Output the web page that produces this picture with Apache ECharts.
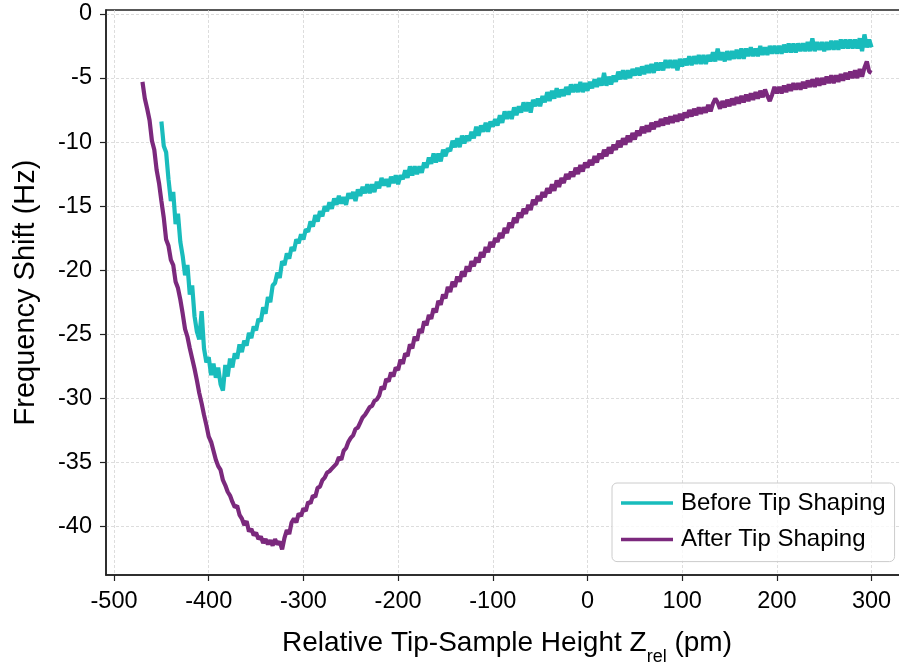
<!DOCTYPE html>
<html><head><meta charset="utf-8">
<script src="https://cdn.jsdelivr.net/npm/echarts@6/dist/echarts.min.js"></script>
<style>html,body{margin:0;padding:0;background:#fff}#c{width:899px;height:662px}</style>
</head><body><div id="c"></div>
<script>
// Relative tip-sample height (pm), 10 samples per row (25 pm)
const zRel = [
  -470,-467.5,-465,-462.5,-460,-457.5,-455,-452.5,-450,-447.5,
  -445,-442.5,-440,-437.5,-435,-432.5,-430,-427.5,-425,-422.5,
  -420,-417.5,-415,-412.5,-410,-407.5,-405,-402.5,-400,-397.5,
  -395,-392.5,-390,-387.5,-385,-382.5,-380,-377.5,-375,-372.5,
  -370,-367.5,-365,-362.5,-360,-357.5,-355,-352.5,-350,-347.5,
  -345,-342.5,-340,-337.5,-335,-332.5,-330,-327.5,-325,-322.5,
  -320,-317.5,-315,-312.5,-310,-307.5,-305,-302.5,-300,-297.5,
  -295,-292.5,-290,-287.5,-285,-282.5,-280,-277.5,-275,-272.5,
  -270,-267.5,-265,-262.5,-260,-257.5,-255,-252.5,-250,-247.5,
  -245,-242.5,-240,-237.5,-235,-232.5,-230,-227.5,-225,-222.5,
  -220,-217.5,-215,-212.5,-210,-207.5,-205,-202.5,-200,-197.5,
  -195,-192.5,-190,-187.5,-185,-182.5,-180,-177.5,-175,-172.5,
  -170,-167.5,-165,-162.5,-160,-157.5,-155,-152.5,-150,-147.5,
  -145,-142.5,-140,-137.5,-135,-132.5,-130,-127.5,-125,-122.5,
  -120,-117.5,-115,-112.5,-110,-107.5,-105,-102.5,-100,-97.5,
  -95,-92.5,-90,-87.5,-85,-82.5,-80,-77.5,-75,-72.5,
  -70,-67.5,-65,-62.5,-60,-57.5,-55,-52.5,-50,-47.5,
  -45,-42.5,-40,-37.5,-35,-32.5,-30,-27.5,-25,-22.5,
  -20,-17.5,-15,-12.5,-10,-7.5,-5,-2.5,0,2.5,
  5,7.5,10,12.5,15,17.5,20,22.5,25,27.5,
  30,32.5,35,37.5,40,42.5,45,47.5,50,52.5,
  55,57.5,60,62.5,65,67.5,70,72.5,75,77.5,
  80,82.5,85,87.5,90,92.5,95,97.5,100,102.5,
  105,107.5,110,112.5,115,117.5,120,122.5,125,127.5,
  130,132.5,135,137.5,140,142.5,145,147.5,150,152.5,
  155,157.5,160,162.5,165,167.5,170,172.5,175,177.5,
  180,182.5,185,187.5,190,192.5,195,197.5,200,202.5,
  205,207.5,210,212.5,215,217.5,220,222.5,225,227.5,
  230,232.5,235,237.5,240,242.5,245,247.5,250,252.5,
  255,257.5,260,262.5,265,267.5,270,272.5,275,277.5,
  280,282.5,285,287.5,290,292.5,295,297.5,300
];
// Frequency shift (Hz) before tip shaping
const beforeShift = [
  null,null,null,null,null,null,null,null,-8.4,-10.3,
  -10.8,-12.9,-14.6,-13.9,-16.4,-15.6,-17.8,-18.9,-20.4,-19.6,
  -21.9,-21.2,-23.6,-24.8,-25.4,-23.2,-26.1,-27.2,-26.8,-28.2,
  -27.3,-28.4,-27.6,-28.9,-29.4,-27.4,-28.3,-26.9,-27.6,-26.5,
  -26.9,-25.8,-26.4,-25.5,-25.9,-24.9,-25.3,-24.4,-24.7,-23.8,
  -24.0,-22.9,-23.4,-22.1,-22.5,-21.2,-21.0,-20.2,-20.6,-19.3,
  -19.6,-18.7,-19.1,-18.2,-18.5,-17.6,-17.9,-17.2,-17.6,-16.8,
  -17.0,-16.2,-16.6,-15.7,-16.2,-15.4,-15.8,-15.0,-15.4,-14.7,
  -15.2,-14.4,-14.9,-14.2,-14.8,-14.3,-14.9,-14.0,-14.4,-13.9,
  -14.6,-13.7,-14.2,-13.5,-14.0,-13.3,-14.0,-13.3,-13.9,-13.1,
  -13.6,-12.8,-13.4,-12.9,-13.5,-12.7,-13.2,-12.6,-13.3,-12.6,
  -12.9,-12.2,-12.8,-11.9,-12.6,-11.9,-12.5,-11.9,-12.4,-11.6,
  -12.0,-11.2,-11.7,-10.9,-11.6,-10.9,-11.5,-10.6,-11.1,-10.5,
  -10.7,-9.9,-10.4,-9.7,-10.4,-9.5,-10.1,-9.5,-9.9,-9.2,
  -9.7,-8.8,-9.5,-8.7,-9.2,-8.5,-9.2,-8.4,-8.8,-8.2,
  -8.7,-7.9,-8.5,-7.6,-8.2,-7.6,-8.2,-7.3,-7.9,-7.2,
  -7.7,-6.9,-7.6,-6.9,-7.7,-6.7,-7.2,-6.6,-7.2,-6.4,
  -6.9,-6.1,-6.8,-6.0,-6.6,-5.8,-6.5,-5.9,-6.4,-5.7,
  -6.3,-5.5,-6.1,-5.5,-6.1,-5.3,-6.1,-5.4,-6.0,-5.3,
  -5.8,-5.1,-5.7,-5.0,-5.6,-4.6,-5.6,-4.9,-5.5,-4.8,
  -5.3,-4.5,-5.1,-4.4,-5.1,-4.4,-5.0,-4.3,-4.8,-4.2,
  -4.8,-4.1,-4.7,-4.0,-4.6,-3.9,-4.6,-3.8,-4.4,-3.8,
  -4.4,-3.6,-4.2,-3.6,-4.2,-3.6,-4.4,-3.5,-4.1,-3.5,
  -4.0,-3.3,-4.0,-3.3,-3.9,-3.2,-3.9,-3.2,-3.9,-3.2,
  -3.7,-3.0,-3.7,-2.7,-3.6,-3.0,-3.7,-2.9,-3.6,-2.9,
  -3.5,-2.8,-3.5,-2.7,-3.5,-2.7,-3.3,-2.6,-3.3,-2.7,
  -3.3,-2.5,-3.2,-2.6,-3.2,-2.5,-3.1,-2.5,-3.1,-2.5,
  -3.1,-2.4,-3.0,-2.3,-3.0,-2.3,-3.0,-2.3,-2.9,-2.3,
  -2.9,-2.2,-2.9,-1.9,-2.9,-2.2,-2.8,-2.2,-2.9,-2.2,
  -2.8,-2.1,-2.8,-2.1,-2.8,-2.0,-2.7,-2.0,-2.7,-2.0,
  -2.7,-2.0,-2.7,-1.9,-2.9,-1.6,-2.6,-2.0,-2.6
];
// Frequency shift (Hz) after tip shaping
const afterShift = [
  -5.3,-6.6,-7.4,-8.3,-9.9,-10.6,-12.2,-13.2,-14.6,-15.9,
  -17.6,-18.1,-19.2,-19.6,-20.9,-21.4,-22.3,-23.4,-24.6,-25.2,
  -26.1,-26.9,-27.7,-28.6,-29.6,-30.4,-31.3,-32.1,-33.0,-33.4,
  -34.1,-34.8,-35.3,-35.6,-36.4,-36.8,-37.3,-37.6,-38.1,-38.5,
  -38.4,-39.1,-39.4,-39.9,-39.6,-40.4,-40.2,-40.7,-40.5,-41.0,
  -40.8,-41.3,-41.0,-41.4,-41.1,-41.5,-41.0,-41.4,-41.2,-41.8,
  -40.9,-40.3,-40.6,-39.7,-39.4,-39.7,-39.0,-39.2,-38.6,-38.8,
  -38.1,-38.2,-37.6,-37.7,-37.0,-36.9,-36.4,-36.2,-35.8,-35.7,
  -35.5,-35.3,-35.1,-34.6,-34.8,-34.1,-33.9,-33.4,-33.1,-32.9,
  -32.4,-32.3,-31.9,-31.5,-31.3,-31.0,-30.7,-30.6,-30.2,-30.1,
  -29.8,-29.1,-29.3,-28.5,-28.7,-28.0,-28.3,-27.6,-27.8,-27.0,
  -27.3,-26.5,-26.7,-25.8,-26.1,-25.2,-25.5,-24.6,-24.9,-24.0,
  -24.3,-23.5,-23.8,-23.0,-23.3,-22.4,-22.7,-21.9,-22.2,-21.3,
  -21.7,-20.9,-21.3,-20.5,-20.9,-20.1,-20.5,-19.7,-20.1,-19.3,
  -19.7,-19.0,-19.4,-18.6,-19.0,-18.2,-18.6,-17.8,-18.2,-17.5,
  -17.8,-17.1,-17.5,-16.7,-17.1,-16.3,-16.7,-15.9,-16.3,-15.5,
  -15.9,-15.2,-15.6,-14.9,-15.3,-14.5,-14.9,-14.2,-14.6,-13.9,
  -14.3,-13.6,-14.0,-13.3,-13.8,-13.0,-13.5,-12.8,-13.2,-12.5,
  -12.9,-12.3,-12.7,-12.0,-12.5,-11.8,-12.3,-11.6,-12.0,-11.4,
  -11.8,-11.1,-11.6,-10.9,-11.3,-10.6,-11.1,-10.4,-10.9,-10.2,
  -10.6,-9.9,-10.4,-9.7,-10.2,-9.5,-10.0,-9.3,-9.8,-9.1,
  -9.5,-8.8,-9.3,-8.7,-9.2,-8.5,-9.0,-8.4,-8.8,-8.2,
  -8.7,-8.1,-8.6,-8.0,-8.5,-7.9,-8.4,-7.8,-8.3,-7.7,
  -8.1,-7.5,-8.0,-7.4,-7.9,-7.3,-7.8,-7.3,-7.7,-7.1,
  -7.6,-7.0,-6.6,-6.9,-7.4,-6.8,-7.3,-6.7,-7.2,-6.6,
  -7.1,-6.5,-7.0,-6.4,-6.9,-6.3,-6.8,-6.2,-6.7,-6.1,
  -6.6,-6.0,-6.5,-5.9,-6.4,-6.8,-6.3,-5.7,-6.2,-5.7,
  -6.2,-5.6,-6.1,-5.5,-6.0,-5.4,-5.9,-5.4,-5.9,-5.3,
  -5.8,-5.2,-5.7,-5.1,-5.7,-5.0,-5.6,-5.0,-5.5,-4.9,
  -5.4,-4.8,-5.4,-4.8,-5.3,-4.7,-5.2,-4.6,-5.1,-4.5,
  -5.0,-4.4,-5.0,-4.3,-4.9,-4.2,-3.7,-4.5,-4.6
];
const xTicks = [-500,-400,-300,-200,-100,0,100,200,300];
const yTicks = [0,-5,-10,-15,-20,-25,-30,-35,-40];
const seriesNames = ['Before Tip Shaping','After Tip Shaping'];
const seriesColors = ['#19bcbc','#7b297d'];

function pairs(vals){
  const out = [];
  zRel.forEach((z,i)=>{ if (vals[i] !== null) out.push([z, vals[i]]); });
  return out;
}
const FONT = '"Liberation Sans", Arial, sans-serif';
const chart = echarts.init(document.getElementById('c'), null, {renderer:'canvas'});
chart.setOption({
  animation:false,
  backgroundColor:'#fff',
  grid:{left:106, top:10, right:-9, bottom:87, outerBoundsMode:'none', containLabel:false,
        show:true, borderColor:'#222', borderWidth:1.5},
  xAxis:{
    type:'value', min:-508.5, max:338.5, splitNumber:8,
    axisLine:{show:true, onZero:false, lineStyle:{color:'#222', width:1.5}},
    axisTick:{show:true, length:6, customValues:xTicks, lineStyle:{color:'#222', width:1.2}},
    axisLabel:{customValues:xTicks, fontSize:23.5, color:'#000', margin:15, fontFamily:FONT},
    splitLine:{show:true, lineStyle:{color:'#d4d4d4', width:0.8, type:[3,2]}},
    name:'{m|Relative Tip-Sample Height Z}{s|rel}{m| (pm)}',
    nameLocation:'middle', nameGap:54,
    nameTextStyle:{verticalAlign:'top', fontFamily:FONT, color:'#000',
      rich:{
        m:{fontSize:28, lineHeight:28, verticalAlign:'top', fontFamily:FONT, color:'#000'},
        s:{fontSize:18, lineHeight:37, verticalAlign:'bottom', fontFamily:FONT, color:'#000'}
      }}
  },
  yAxis:{
    type:'value', min:-43.8, max:0.31, splitNumber:9,
    axisLine:{show:true, onZero:false, lineStyle:{color:'#222', width:1.5}},
    axisTick:{show:true, length:6, customValues:yTicks, lineStyle:{color:'#222', width:1.2}},
    axisLabel:{customValues:yTicks, fontSize:23.5, color:'#000', margin:14, fontFamily:FONT},
    splitLine:{show:true, lineStyle:{color:'#d4d4d4', width:0.8, type:[3,2]}},
    name:'Frequency Shift (Hz)', nameLocation:'middle', nameGap:66,
    nameTextStyle:{fontSize:29, color:'#000', fontFamily:FONT}
  },
  legend:{
    orient:'vertical', left:612, top:483,
    icon:'rect', itemWidth:52, itemHeight:3.5, itemGap:10.6,
    padding:[7,9,9,9],
    backgroundColor:'rgba(255,255,255,0.8)', borderColor:'#cccccc', borderWidth:1, borderRadius:5,
    textStyle:{fontSize:24, lineHeight:26, color:'#000', fontFamily:FONT, padding:[0,0,0,3]},
    data:seriesNames
  },
  series:[
    {name:seriesNames[0], type:'line', data:pairs(beforeShift), showSymbol:false, symbol:'none',
     lineStyle:{width:4.2, color:seriesColors[0]}, itemStyle:{color:seriesColors[0]}, z:2},
    {name:seriesNames[1], type:'line', data:pairs(afterShift), showSymbol:false, symbol:'none',
     lineStyle:{width:4.2, color:seriesColors[1]}, itemStyle:{color:seriesColors[1]}, z:3}
  ]
});
</script></body></html>
